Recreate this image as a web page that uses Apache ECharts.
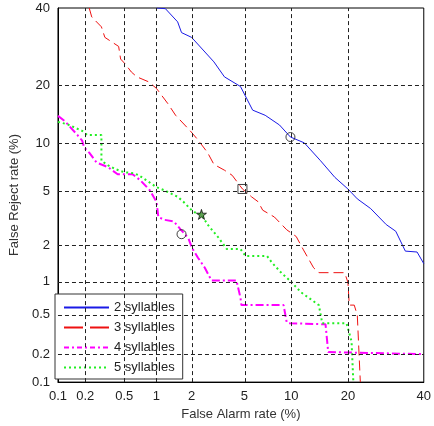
<!DOCTYPE html>
<html>
<head>
<meta charset="utf-8">
<script src="https://cdn.jsdelivr.net/npm/echarts@6/dist/echarts.min.js"></script>
<style>
  html, body { margin: 0; padding: 0; background: #fff; }
  #chart { width: 434px; height: 426px; }
</style>
</head>
<body>
<div id="chart"></div>
<script>
  // tick labels (percent)
  let tickVals = [0.1, 0.2, 0.5, 1, 2, 5, 10, 20, 40];

  // 2 syllables
  let fa2 = [1, 1.2, 1.53, 1.65, 2.0, 3.0, 3.6, 4.7, 5.7, 6.9, 8.5, 9.9, 11.9, 14.6, 17.3, 20, 22.1, 25.3, 29.3, 31.9, 34.6, 38, 40];
  let fr2 = [40, 39.8, 36, 33, 31.7, 25.4, 21.9, 19.8, 15.2, 14.3, 12.7, 10.9, 10.1, 7.9, 6.2, 5.2, 4.45, 3.8, 2.9, 2.58, 1.8, 1.77, 1.42];
  // 3 syllables
  let fa3 = [0.22, 0.234, 0.295, 0.32, 0.37, 0.44, 0.46, 0.51, 0.585, 0.66, 0.85, 1.0, 1.26, 1.47, 1.95, 2.25, 2.68, 3.0, 3.6, 4.1, 4.85, 5.6, 6.2, 6.65, 7.9, 9.4, 10.7, 11.7, 13.4, 14.3, 19.3, 20, 20.3, 21.4, 22.1, 22.8];
  let fr3 = [40, 37.4, 34.6, 31.7, 30.6, 29.3, 26.1, 24.9, 23.0, 21.9, 20.8, 19.4, 16.4, 14.3, 11.8, 10.5, 8.85, 7.5, 6.9, 6.4, 5.2, 4.6, 4.25, 3.7, 3.3, 2.65, 2.35, 1.87, 1.31, 1.19, 1.19, 0.98, 0.61, 0.61, 0.49, 0.1];
  // 4 syllables
  let fa4 = [0.1, 0.12, 0.164, 0.185, 0.194, 0.22, 0.263, 0.346, 0.43, 0.60, 0.71, 0.87, 1.0, 1.04, 1.17, 1.42, 1.62, 1.88, 2.02, 2.25, 2.55, 2.87, 4.4, 4.7, 4.77, 9.0, 9.4, 9.8, 15.5, 16.0, 40];
  let fr4 = [14.2, 13.3, 11.2, 10.4, 9.5, 8.85, 7.7, 7.2, 6.5, 6.5, 5.95, 5.1, 4.25, 3.3, 3.15, 3.06, 2.67, 2.28, 1.9, 1.59, 1.31, 1.02, 1.02, 0.71, 0.61, 0.61, 0.42, 0.41, 0.40, 0.21, 0.2];
  // 5 syllables
  let fa5 = [0.1, 0.128, 0.185, 0.21, 0.295, 0.295, 0.346, 0.41, 0.50, 0.62, 0.69, 0.85, 1.0, 1.17, 1.53, 1.71, 2.0, 2.2, 2.4, 2.68, 3.2, 3.75, 4.7, 5.1, 7.1, 7.65, 8.8, 9.8, 11.4, 14.3, 14.9, 19.7, 20.8, 21.2];
  let fr5 = [13.2, 12.8, 11.8, 11.2, 11.2, 7.9, 7.4, 7.0, 6.7, 6.6, 6.4, 5.8, 5.35, 5.1, 4.6, 4.25, 3.7, 3.5, 3.45, 2.9, 2.35, 1.87, 1.87, 1.64, 1.64, 1.44, 1.17, 1.02, 0.80, 0.61, 0.41, 0.41, 0.27, 0.1];

  // operating point markers
  let mkX = [9.9, 4.85, 1.65, 2.4];
  let mkY = [10.9, 5.2, 2.45, 3.45];
  let mkShape = ['circle', 'rect', 'circle', 'path://M50,0 L61,35 L98,35 L68,57 L79,91 L50,70 L21,91 L32,57 L2,35 L39,35 Z'];

  let names = ['2 syllables', '3 syllables', '4 syllables', '5 syllables'];

  // normal deviate scale (DET plot), Acklam's inverse normal CDF
  function probit(p) {
    let a = [-3.969683028665376e+01, 2.209460984245205e+02, -2.759285104469687e+02, 1.383577518672690e+02, -3.066479806614716e+01, 2.506628277459239e+00];
    let b = [-5.447609879822406e+01, 1.615858368580409e+02, -1.556989798598866e+02, 6.680131188771972e+01, -1.328068155288572e+01];
    let c = [-7.784894002430293e-03, -3.223964580411365e-01, -2.400758277161838e+00, -2.549732539343734e+00, 4.374664141464968e+00, 2.938163982698783e+00];
    let d = [7.784695709041462e-03, 3.224671290700398e-01, 2.445134137142996e+00, 3.754408661907416e+00];
    let pl = 0.02425, q, r;
    if (p < pl) {
      q = Math.sqrt(-2 * Math.log(p));
      return (((((c[0] * q + c[1]) * q + c[2]) * q + c[3]) * q + c[4]) * q + c[5]) / ((((d[0] * q + d[1]) * q + d[2]) * q + d[3]) * q + 1);
    }
    if (p <= 1 - pl) {
      q = p - 0.5; r = q * q;
      return (((((a[0] * r + a[1]) * r + a[2]) * r + a[3]) * r + a[4]) * r + a[5]) * q / (((((b[0] * r + b[1]) * r + b[2]) * r + b[3]) * r + b[4]) * r + 1);
    }
    q = Math.sqrt(-2 * Math.log(1 - p));
    return -(((((c[0] * q + c[1]) * q + c[2]) * q + c[3]) * q + c[4]) * q + c[5]) / ((((d[0] * q + d[1]) * q + d[2]) * q + d[3]) * q + 1);
  }
  let tr = v => probit(v / 100);
  let pairs = (xs, ys) => xs.map((x, i) => [tr(x), tr(ys[i])]);
  let tickPos = tickVals.map(tr);
  let axMin = tickPos[0], axMax = tickPos[tickPos.length - 1];
  let labelOf = v => {
    let best = 0;
    tickPos.forEach((t, i) => { if (Math.abs(t - v) < Math.abs(tickPos[best] - v)) best = i; });
    return String(tickVals[best]);
  };
  let inner = tickVals.slice(1, -1);

  let axisCommon = {
    type: 'value',
    min: axMin,
    max: axMax,
    nameLocation: 'middle',
    nameTextStyle: { fontSize: 13, color: '#333', fontFamily: 'Liberation Sans' },
    axisLine: { lineStyle: { color: '#000', width: 1 } },
    axisTick: { show: false },
    splitLine: { show: false },
    axisLabel: {
      customValues: tickPos,
      formatter: labelOf,
      fontSize: 13,
      color: '#222',
      fontFamily: 'Liberation Sans',
      hideOverlap: false
    }
  };

  let chart = echarts.init(document.getElementById('chart'));
  let lineStyles = [
    { color: '#1a1ae6', width: 1, type: 'solid' },
    { color: '#ee1111', width: 1, type: [10, 5] },
    { color: '#ff00ff', width: 2, type: [8, 3, 2, 3] },
    { color: '#22ee22', width: 2, type: [2, 3] }
  ];
  // MATLAB draws the legend samples with its own dash lengths
  let legendDash = [null, [19, 7], [5, 3, 2, 3], [2, 3]];
  let dataSets = [pairs(fa2, fr2), pairs(fa3, fr3), pairs(fa4, fr4), pairs(fa5, fr5)];

  let series = [{
    type: 'line',
    name: 'grid',
    data: [],
    z: 1,
    silent: true,
    markLine: {
      silent: true,
      symbol: 'none',
      animation: false,
      label: { show: false },
      lineStyle: { color: '#222', width: 1, type: [4, 3] },
      data: inner.map(v => ({ xAxis: tr(v) })).concat(inner.map(v => ({ yAxis: tr(v) })))
    }
  }];
  dataSets.forEach((d, i) => {
    series.push({
      type: 'line',
      name: names[i],
      data: d,
      symbol: 'none',
      z: 3,
      clip: true,
      lineStyle: lineStyles[i],
      itemStyle: { color: lineStyles[i].color },
      animation: false
    });
  });
  mkX.forEach((x, i) => {
    let isStar = i === 3;
    series.push({
      type: 'scatter',
      name: 'mk' + i,
      data: [[tr(x), tr(mkY[i])]],
      symbol: mkShape[i],
      symbolSize: isStar ? 10 : 9,
      z: 4,
      itemStyle: {
        color: isStar ? '#3a8a2a' : 'rgba(0,0,0,0)',
        borderColor: '#111',
        borderWidth: 1
      },
      animation: false
    });
  });

  let option = {
    backgroundColor: '#fff',
    animation: false,
    grid: {
      left: 48, right: 7, top: 8, bottom: 38,
      show: true, borderColor: '#000', borderWidth: 1,
      containLabel: false
    },
    legend: {
      data: names.map((n, i) => legendDash[i] ? { name: n, lineStyle: { type: legendDash[i] } } : { name: n }),
      orient: 'vertical',
      left: 55,
      top: 294,
      padding: [7, 8, 5, 8],
      itemGap: 7,
      itemWidth: 45,
      itemHeight: 14,
      itemStyle: { opacity: 0 },
      backgroundColor: '#fff',
      borderColor: '#333',
      borderWidth: 1,
      borderRadius: 0,
      selectedMode: false,
      textStyle: { fontSize: 13, color: '#222', fontFamily: 'Liberation Sans' }
    },
    xAxis: Object.assign({}, axisCommon, {
      name: 'False Alarm rate (%)',
      nameGap: 24
    }),
    yAxis: Object.assign({}, axisCommon, {
      name: 'False Reject rate (%)',
      nameGap: 30
    }),
    series: series
  };
  chart.setOption(option);
</script>
</body>
</html>
